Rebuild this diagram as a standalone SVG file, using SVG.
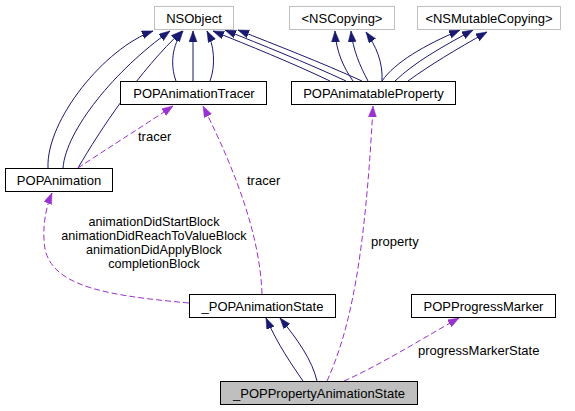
<svg xmlns="http://www.w3.org/2000/svg" width="575" height="411" viewBox="0 0 575 411">
<style>
.node rect{fill:#ffffff;stroke:#000000;stroke-width:1}
.node.ext rect{stroke:#bfbfbf}
.node.main rect{fill:#bfbfbf}
text{font-family:"Liberation Sans",Arial,Helvetica,sans-serif;font-size:13px;fill:#000000}
.node text{text-anchor:middle}
.inh{fill:none;stroke:#191970;stroke-width:1}
.use{fill:none;stroke:#9a32cd;stroke-width:1;stroke-dasharray:6,3}
.lbl{text-anchor:middle;font-size:12.6px}
</style>
<defs>
<marker id="ab" markerUnits="userSpaceOnUse" markerWidth="12" markerHeight="9" refX="11" refY="4" orient="auto">
<path d="M0,0 L11,4 L0,8 z" fill="#191970" stroke="#191970" stroke-width="0.5"/>
</marker>
<marker id="ap" markerUnits="userSpaceOnUse" markerWidth="12" markerHeight="9" refX="11" refY="4" orient="auto">
<path d="M0,0 L11,4 L0,8 z" fill="#9a32cd" stroke="#9a32cd" stroke-width="0.5"/>
</marker>
</defs>
<rect width="575" height="411" fill="#ffffff"/>
<g id="connectors">
<path class="inh" marker-end="url(#ab)" d="M48,168 C46,120 105,48 153,31"/>
<path class="inh" marker-end="url(#ab)" d="M63,168 C66,130 115,70 170,31"/>
<path class="inh" marker-end="url(#ab)" d="M78,168 C100,130 140,70 182,31"/>
<path class="inh" marker-end="url(#ab)" d="M176,81 C170,65 172,45 183,31"/>
<path class="inh" marker-end="url(#ab)" d="M193,81 L193,31"/>
<path class="inh" marker-end="url(#ab)" d="M210,81 C216,65 214,45 207,31"/>
<path class="inh" marker-end="url(#ab)" d="M330,81 C290,62 250,46 213,31"/>
<path class="inh" marker-end="url(#ab)" d="M346,81 C305,62 262,45 225,30"/>
<path class="inh" marker-end="url(#ab)" d="M362,81 C320,62 276,45 238,30"/>
<path class="inh" marker-end="url(#ab)" d="M353,81 C344,68 336,52 335,31"/>
<path class="inh" marker-end="url(#ab)" d="M368,81 C360,66 353,50 351,31"/>
<path class="inh" marker-end="url(#ab)" d="M382,81 C383,62 376,46 366,32"/>
<path class="inh" marker-end="url(#ab)" d="M382,81 C395,62 425,45 460,30"/>
<path class="inh" marker-end="url(#ab)" d="M395,81 C415,62 440,48 473,30"/>
<path class="inh" marker-end="url(#ab)" d="M408,81 C430,65 455,50 487,32"/>
<path class="inh" marker-end="url(#ab)" d="M303,381 C292,365 278,345 266,318"/>
<path class="inh" marker-end="url(#ab)" d="M317,381 C312,360 298,340 280,318"/>
<path class="use" marker-end="url(#ap)" d="M78,168 C105,150 140,128 173,106"/>
<path class="use" marker-end="url(#ap)" d="M262,294 C260,240 240,180 203,106"/>
<path class="use" marker-end="url(#ap)" d="M189,303 C100,295 45,285 44,240 C43,220 47,205 52,193"/>
<path class="use" marker-end="url(#ap)" d="M327,381 C350,330 365,260 373,106"/>
<path class="use" marker-end="url(#ap)" d="M344,381 C380,365 420,340 459,318"/>
<text x="138" y="141">tracer</text>
<text x="247" y="185">tracer</text>
<text class="lbl" x="154" y="226">animationDidStartBlock</text>
<text class="lbl" x="154" y="240">animationDidReachToValueBlock</text>
<text class="lbl" x="154" y="254">animationDidApplyBlock</text>
<text class="lbl" x="154" y="268">completionBlock</text>
<text x="371" y="246">property</text>
<text x="418" y="355">progressMarkerState</text>
</g>
<g id="NSObject" class="node ext"><rect x="154.5" y="6.5" width="79" height="23"/><text x="194" y="23">NSObject</text></g>
<g id="NSCopying" class="node ext"><rect x="289.5" y="6.5" width="105" height="23"/><text x="342" y="23">&lt;NSCopying&gt;</text></g>
<g id="NSMutableCopying" class="node ext"><rect x="417.5" y="6.5" width="143" height="23"/><text x="489" y="23">&lt;NSMutableCopying&gt;</text></g>
<g id="POPAnimationTracer" class="node"><rect x="120.5" y="81.5" width="146" height="23"/><text x="194" y="98">POPAnimationTracer</text></g>
<g id="POPAnimatableProperty" class="node"><rect x="291.5" y="81.5" width="164" height="23"/><text x="373.5" y="98">POPAnimatableProperty</text></g>
<g id="POPAnimation" class="node"><rect x="5.5" y="168.5" width="107" height="23"/><text x="59" y="185">POPAnimation</text></g>
<g id="POPAnimationState" class="node"><rect x="189.5" y="294.5" width="146" height="23"/><text x="262.5" y="311">_POPAnimationState</text></g>
<g id="POPProgressMarker" class="node"><rect x="411.5" y="294.5" width="144" height="23"/><text x="483.5" y="311">POPProgressMarker</text></g>
<g id="POPPropertyAnimationState" class="node main"><rect x="220.5" y="381.5" width="197" height="23"/><text x="319" y="398">_POPPropertyAnimationState</text></g>
</svg>
